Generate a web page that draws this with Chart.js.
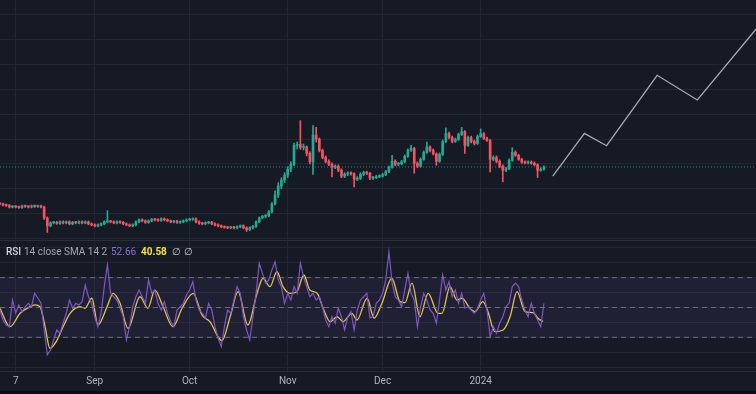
<!DOCTYPE html>
<html>
<head>
<meta charset="utf-8">
<script src="https://cdn.jsdelivr.net/npm/chart.js@4.4.1/dist/chart.umd.min.js"></script>
<style>
  html, body { margin: 0; padding: 0; background: #161a25; }
  #wrap { position: relative; width: 756px; height: 394px; overflow: hidden; background: #161a25; font-family: Roboto, "Noto Sans", sans-serif; }
  #main { position: absolute; left: 0; top: 0; }
  #rsi { position: absolute; left: 0; top: 241px; }
  #sep { position: absolute; left: 0; top: 240px; width: 756px; height: 1px; background: #2a2e39; }
  #legend span { position: absolute; top: 245px; font-size: 10px; line-height: 13px; white-space: nowrap; }
  #strip { position: absolute; left: 0; bottom: 0; width: 756px; height: 3px; background: #0c0e14; }
</style>
</head>
<body>
<div id="wrap">
  <canvas id="main" width="756" height="241"></canvas>
  <div id="sep"></div>
  <canvas id="rsi" width="756" height="153"></canvas>
  <div id="legend">
    <span style="left:6px;color:#d1d4dc;font-weight:500">RSI</span>
    <span style="left:24px;color:#a3a6af">14 close SMA 14 2</span>
    <span id="rsiLast" style="left:111px;color:#8e6fd8"></span>
    <span id="smaLast" style="left:141px;color:#f5e03c;font-weight:700"></span>
    <span style="left:172px;color:#c9ccd3">∅</span>
    <span style="left:184px;color:#c9ccd3">∅</span>
  </div>
  <div id="strip"></div>
</div>
<script>
// Zeitachse: Tage relativ zum 7. Aug (Tag 0)
const firstDay = -5;
const xMin = -4.96, xMax = 234.05;
const tickDays = [0, 25, 55, 86, 116, 147];
const tickLabels = ['7', 'Sep', 'Oct', 'Nov', 'Dec', '2024'];

// Kerzen (ein Wert pro Tag, ab firstDay)
const opens = [35, 34.5, 33.5, 33, 31.5,
  32, 31.5, 31, 32.5, 32, 31.5, 32.5, 32, 32.5, 31.5,
  20.5, 12.5, 15.5, 16, 15, 16.5, 15.5, 16.5, 14.5, 16,
  15.5, 16.5, 15.5, 16.5, 14.5, 13.5, 12.5, 13.5, 14.5, 16.5,
  17, 16.5, 15.5, 16.5, 16, 14.5, 13.5, 12.5, 13.5, 16.5,
  18.5, 17.5, 16, 17.5, 19, 18.5, 18, 19.5, 18.5, 17.5,
  16.5, 17, 16, 16.5, 17.5, 18.5, 19, 19.5, 16.5, 15,
  14.5, 15.5, 16, 14.5, 13.5, 12.5, 11.5, 11, 10.5, 11,
  10.5, 11.5, 12.5, 10.5, 8.5, 10.5, 12, 16.5, 20.5, 22,
  22.5, 26.5, 34.5, 43.5, 52.5, 58.5, 63.5, 69.5, 74.5, 93.5,
  94.5, 91.5, 92, 85.5, 77, 104, 100, 88.5, 81.5, 77.5,
  74.5, 71.5, 72.5, 68.5, 62.5, 64.5, 65.5, 65, 59.5, 60.5,
  64.5, 66, 65.5, 60.5, 61, 62, 62.5, 64, 67, 71.5,
  77.5, 74.5, 75, 77, 82.5, 88.5, 90.5, 75.5, 72.5, 79.5,
  86.5, 92, 88.5, 85, 77.5, 84.5, 97.5, 105.5, 101.5, 97.5,
  99.5, 104.5, 107.5, 93.5, 101.5, 97.5, 95.5, 102.5, 105.5, 100.5,
  98.5, 79.5, 81.5, 77.5, 72.5, 68.5, 70, 78.5, 86.5, 83.5,
  79.5, 76.5, 76, 76.5, 75.5, 74, 68.5, 69.5];
const highs = [36, 35.5, 34.5, 34, 33,
  33, 32.5, 33.5, 33.5, 33, 33.5, 33.5, 33.5, 33.5, 32.5,
  21.5, 16.5, 17, 17, 17.5, 17.5, 17.5, 17.5, 17, 17,
  17.5, 17.5, 17.5, 17.5, 15.5, 14.5, 14.5, 15.5, 17.5, 27.8,
  18, 17.5, 17.5, 17.5, 17, 15.5, 14.5, 14.5, 17.5, 19.5,
  19.5, 18.5, 18.5, 20, 20, 19.5, 20.5, 20.5, 19.5, 18.5,
  18, 18, 17.5, 18.5, 19.5, 20, 20.5, 20.5, 17.5, 16,
  16.5, 17, 17, 15.5, 14.5, 13.5, 12.5, 12, 12, 12,
  12.5, 13.5, 13.5, 11.5, 11.5, 13, 17.5, 21.5, 23, 24,
  28, 36, 47.8, 56, 61, 66, 72, 77, 96, 97,
  118.5, 95, 93, 87, 113.5, 111.8, 101, 90, 83, 79,
  76, 74, 74, 70, 66, 67, 67, 66, 62, 66,
  67.5, 67.5, 66.5, 62.5, 63.5, 64, 65.5, 68.5, 73, 83.5,
  79, 76.5, 78.5, 84, 90, 93.5, 91.5, 77, 81, 88,
  96.8, 93, 90, 86, 86, 99, 111.2, 107, 103, 101,
  106, 111.8, 108.5, 103, 103, 99, 104, 110.2, 106.5, 102,
  99.5, 83, 83, 79, 74, 71.5, 80, 91.2, 88, 84.5,
  80.5, 78, 78, 78, 77, 75, 71, 73];
const lows = [33.5, 32.5, 32, 30.5, 30.5,
  30.5, 30, 30, 31, 30.5, 30.5, 31, 31, 30.5, 19,
  5.8, 11.5, 14.5, 14, 14, 14.5, 14.5, 13.5, 13.5, 14.5,
  14.5, 14.5, 14.5, 13.5, 12.5, 11.5, 11.5, 12.5, 13.5, 15.5,
  15.5, 14.5, 14.5, 15, 13.5, 12.5, 11.5, 11.5, 12.5, 15.5,
  16.5, 15, 15, 16.5, 17.5, 17, 17, 17.5, 16.5, 15.5,
  15.5, 15, 15, 15.5, 16.5, 17.5, 18, 15.5, 14, 13.5,
  13.5, 14.5, 13.5, 12.5, 11.5, 10.5, 10, 9.5, 9.5, 9.5,
  9.5, 10.5, 9.5, 6.8, 7.5, 9.5, 11, 15.5, 19.5, 20.5,
  21.5, 25.5, 33.5, 41, 50, 56, 61, 67, 73, 90,
  89.5, 89, 83, 75, 64.3, 97, 87, 80, 76, 73,
  61.8, 70, 67, 61, 61, 63, 63.5, 51.8, 58, 59,
  63, 64, 59, 59, 60, 61, 61.5, 63, 66, 70.5,
  73, 73, 74, 76, 81.5, 87.5, 65.5, 71, 71.5, 78.5,
  85.5, 87, 84, 73.5, 76.5, 83.5, 96.5, 100, 96, 96.5,
  98.5, 103.5, 85.5, 92.5, 96, 94, 94.5, 101.5, 99.5, 97.5,
  66.8, 78, 76, 71, 56.8, 67, 69, 77.5, 82.5, 78.5,
  75.5, 75, 75, 74.5, 73, 61.2, 67.5, 68.5];
const closes = [34.5, 33.5, 33, 31.5, 32,
  31.5, 31, 32.5, 32, 31.5, 32.5, 32, 32.5, 31.5, 20.5,
  12.5, 15.5, 16, 15, 16.5, 15.5, 16.5, 14.5, 16, 15.5,
  16.5, 15.5, 16.5, 14.5, 13.5, 12.5, 13.5, 14.5, 16.5, 17,
  16.5, 15.5, 16.5, 16, 14.5, 13.5, 12.5, 13.5, 16.5, 18.5,
  17.5, 16, 17.5, 19, 18.5, 18, 19.5, 18.5, 17.5, 16.5,
  17, 16, 16.5, 17.5, 18.5, 19, 19.5, 16.5, 15, 14.5,
  15.5, 16, 14.5, 13.5, 12.5, 11.5, 11, 10.5, 11, 10.5,
  11.5, 12.5, 10.5, 8.5, 10.5, 12, 16.5, 20.5, 22, 22.5,
  26.5, 34.5, 43.5, 52.5, 58.5, 63.5, 69.5, 74.5, 93.5, 94.5,
  91.5, 92, 85.5, 77, 104, 100, 88.5, 81.5, 77.5, 74.5,
  71.5, 72.5, 68.5, 62.5, 64.5, 65.5, 65, 59.5, 60.5, 64.5,
  66, 65.5, 60.5, 61, 62, 62.5, 64, 67, 71.5, 77.5,
  74.5, 75, 77, 82.5, 88.5, 90.5, 75.5, 72.5, 79.5, 86.5,
  92, 88.5, 85, 77.5, 84.5, 97.5, 105.5, 101.5, 97.5, 99.5,
  104.5, 107.5, 93.5, 101.5, 97.5, 95.5, 102.5, 105.5, 100.5, 98.5,
  79.5, 81.5, 77.5, 72.5, 68.5, 70, 78.5, 86.5, 83.5, 79.5,
  76.5, 76, 76.5, 75.5, 74, 68.5, 69.5, 71.8];

// Projektion (graue Linie)
const projDays = [169.8, 179.8, 186.8, 202.8, 215.5, 234.05];
const projValues = [62.7, 105.7, 93.2, 164.2, 139.3, 210.6];

// RSI 14 (ein Wert pro Tag) und SMA 14
const rsi = [48.3, 41.6, 38.3, 37.1, 55.0,
  46.3, 51.7, 47.2, 50.5, 52.8, 50.5, 59.5, 56.4, 52.8, 34.9,
  18.2, 21.5, 28.2, 34.9, 32.7, 39.4, 46.1, 55.0, 49.5, 52.8,
  51.7, 53.9, 65.1, 57.2, 52.8, 43.8, 37.1, 46.1, 64.0, 78.5,
  59.5, 57.2, 55.0, 49.5, 43.8, 28.2, 37.1, 50.5, 57.2, 61.7,
  57.2, 52.8, 68.5, 59.5, 61.7, 52.8, 48.3, 53.9, 46.1, 40.5,
  37.1, 48.3, 50.5, 52.8, 58.4, 61.7, 67.3, 55.0, 48.3, 46.1,
  43.0, 52.8, 48.3, 37.1, 29.4, 23.7, 37.1, 48.3, 46.1, 55.0,
  64.0, 59.5, 43.8, 34.9, 28.2, 43.8, 59.5, 79.7, 72.9, 66.3,
  68.5, 75.2, 80.7, 68.5, 64.0, 52.8, 59.5, 55.0, 64.0, 59.5,
  79.7, 70.7, 64.0, 57.2, 59.5, 55.0, 57.2, 50.5, 41.6, 37.1,
  43.8, 39.4, 49.5, 43.8, 34.9, 43.8, 47.2, 34.9, 48.3, 55.0,
  57.2, 59.5, 43.0, 43.8, 52.8, 55.0, 59.5, 68.5, 87.4, 66.3,
  57.2, 55.0, 50.5, 61.7, 72.9, 59.5, 55.0, 37.1, 50.5, 59.5,
  55.0, 48.3, 46.1, 39.4, 55.0, 71.8, 61.7, 67.3, 57.2, 61.7,
  52.8, 59.5, 49.5, 50.5, 48.3, 46.1, 49.5, 55.0, 59.5, 48.3,
  30.4, 37.1, 32.7, 39.4, 43.8, 50.5, 52.8, 64.0, 66.3, 64.0,
  55.0, 48.3, 43.8, 52.8, 46.1, 41.6, 37.1, 52.66];
const smaDays = [-5, -1.8, 1.4, 4.5, 6.1, 7.7, 9.3, 10.8, 13.1, 15, 17.2, 20.3, 21.9, 24.1, 26,
  28.9, 30.8, 33, 35.5, 39.3, 41.8, 44, 46.6, 49.7, 52.6, 56.1, 58.9, 61.4, 65.2, 67.8,
  70.3, 73.4, 76.3, 78.2, 80.4, 82.6, 84.5, 86.7, 88.9, 91.1, 93, 95.3, 97.2, 99.4, 101.6,
  103.5, 106.3, 107.9, 111.1, 113.3, 115.8, 118.9, 121.5, 123.1, 125.3, 127.8, 130.4, 133.5, 134.8,
  137.3, 139.5, 141.1, 143.6, 145.2, 147.7, 149.3, 151.5, 154.1, 156.3, 158.5, 161, 163.6, 165.1, 166.7];
const smaValues = [49.5, 37.1, 46.1, 50.5, 51.7, 50.5, 37.1, 22.6, 28.2, 37.1, 46.1, 50.5, 49.5, 56.2, 38.3,
  50.5, 59.5, 52.8, 36.0, 57.2, 49.5, 61.7, 50.5, 37.1, 49.5, 59.5, 45.0, 40.5, 27.7, 43.8,
  60.6, 38.3, 59.5, 69.6, 64.0, 74.0, 64.0, 59.5, 60.6, 71.8, 61.7, 59.5, 49.5, 40.5, 43.8,
  40.5, 46.1, 41.6, 56.2, 42.8, 52.8, 69.6, 53.9, 53.2, 66.3, 43.8, 59.5, 46.1, 46.1,
  64.0, 55.0, 56.2, 49.5, 47.2, 53.9, 47.2, 33.8, 34.9, 43.8, 60.6, 47.2, 46.5, 42.8, 40.58];
const rsiLevels = [70, 50, 30];

// --- Darstellung ---
Chart.defaults.font.family = 'Roboto, "Noto Sans", sans-serif';
Chart.defaults.animation = false;
Chart.defaults.plugins.legend.display = false;
Chart.defaults.plugins.tooltip.enabled = false;

const gridColor = '#232733';
const upColor = '#22ab94', downColor = '#f7525f';

const candleColors = closes.map((c, i) => c >= opens[i] ? upColor : downColor);
const point = (i, y) => ({ x: firstDay + i, y });

function timeScale(showLabels) {
  return {
    type: 'linear', min: xMin, max: xMax, offset: false,
    grid: { color: gridColor, drawTicks: false, offset: false },
    border: { display: showLabels, color: '#2a2e39' },
    afterBuildTicks: s => { s.ticks = tickDays.map(v => ({ value: v })); },
    // feste Höhe der Zeitachse, damit das RSI-Feld bei y=371 endet
    afterFit: s => { if (showLabels) s.height = 20; },
    ticks: {
      display: showLabels, autoSkip: false, maxRotation: 0, padding: 4,
      color: '#b2b5be', font: { size: 10 },
      callback: v => tickLabels[tickDays.indexOf(v)]
    }
  };
}

// Hauptchart: Kerzen, letzte Kurslinie, Projektion
new Chart(document.getElementById('main'), {
  type: 'bar',
  data: {
    datasets: [
      {
        label: 'Dochte', grouped: false, barThickness: 1, order: 3,
        data: lows.map((l, i) => point(i, [l, highs[i]])),
        backgroundColor: candleColors
      },
      {
        label: 'Körper', grouped: false, barThickness: 2, minBarLength: 1, order: 2,
        data: opens.map((o, i) => point(i, [o, closes[i]])),
        backgroundColor: candleColors
      },
      {
        type: 'line', label: 'Letzter Kurs', order: 4,
        data: [{ x: xMin, y: closes[closes.length - 1] }, { x: xMax, y: closes[closes.length - 1] }],
        borderColor: 'rgba(34,171,148,0.8)', borderWidth: 1, borderDash: [1, 2], pointRadius: 0
      },
      {
        type: 'line', label: 'Projektion', order: 1,
        data: projDays.map((d, i) => ({ x: d, y: projValues[i] })),
        borderColor: '#a7abb5', borderWidth: 1.3, pointRadius: 0
      }
    ]
  },
  options: {
    responsive: false,
    layout: { padding: 0 },
    scales: {
      x: timeScale(false),
      y: {
        type: 'linear', min: -2.8, max: 240.1,
        grid: { color: gridColor, drawTicks: false },
        border: { display: false },
        ticks: { display: false, stepSize: 25, includeBounds: false }
      }
    }
  }
});

// RSI-Panel
const levelSets = rsiLevels.map((lv, k) => ({
  type: 'line', label: 'Level ' + lv,
  data: [{ x: xMin, y: lv }, { x: xMax, y: lv }],
  borderColor: 'rgba(120,123,134,0.85)', borderWidth: 1, borderDash: [5, 4], pointRadius: 0,
  fill: k === 0 ? { value: rsiLevels[rsiLevels.length - 1] } : false,
  backgroundColor: 'rgba(126,87,194,0.1)'
}));

new Chart(document.getElementById('rsi'), {
  type: 'line',
  data: {
    datasets: [
      ...levelSets,
      {
        label: 'RSI', data: rsi.map((v, i) => point(i, v)),
        borderColor: '#7e57c2', borderWidth: 1.2, pointRadius: 0
      },
      {
        label: 'SMA', data: smaDays.map((d, i) => ({ x: d, y: smaValues[i] })),
        borderColor: '#ecd33b', borderWidth: 1.3, pointRadius: 0, cubicInterpolationMode: 'monotone'
      }
    ]
  },
  options: {
    responsive: false,
    layout: { padding: { bottom: 3 } },
    scales: {
      x: timeScale(true),
      y: {
        type: 'linear', min: 7.4, max: 94.6,
        grid: { color: gridColor, drawTicks: false },
        border: { display: false },
        ticks: { display: false, stepSize: 10, includeBounds: false }
      }
    }
  }
});

document.getElementById('rsiLast').textContent = rsi[rsi.length - 1].toFixed(2);
document.getElementById('smaLast').textContent = smaValues[smaValues.length - 1].toFixed(2);
</script>
</body>
</html>
